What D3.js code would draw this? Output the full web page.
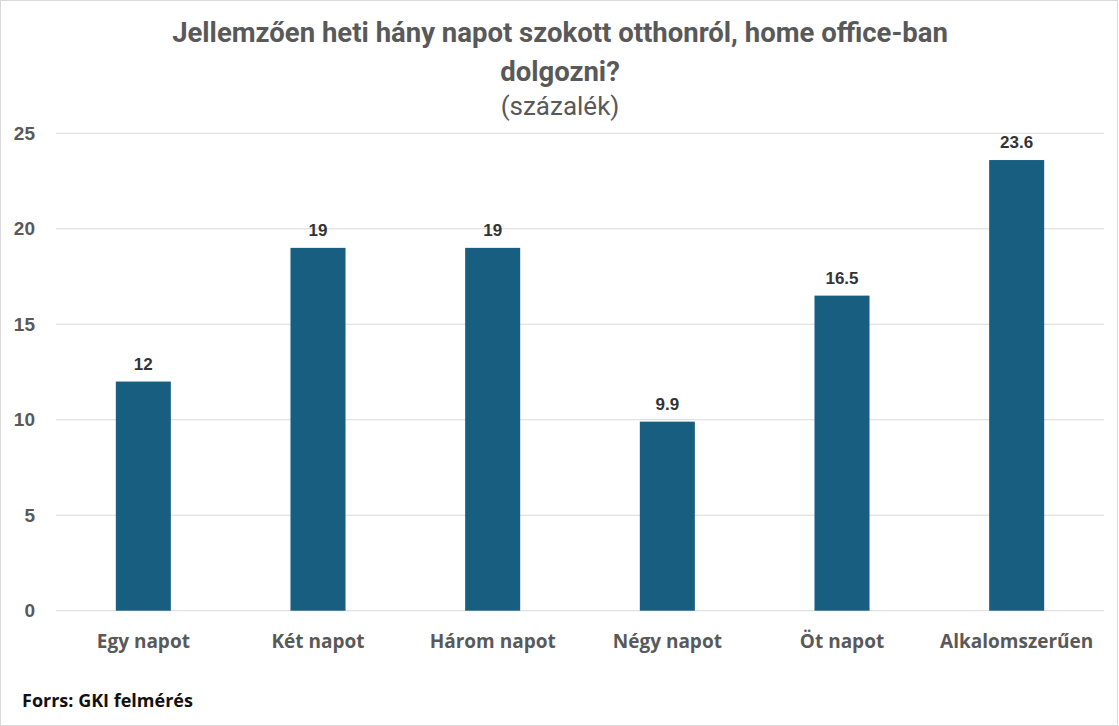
<!DOCTYPE html>
<html><head><meta charset="utf-8">
<script src="https://cdn.jsdelivr.net/npm/d3@7"></script>
<style>body{margin:0;background:#fff}</style>
</head><body>
<svg id="c" width="1119" height="726"></svg>
<script>
const categories = ["Egy napot","Két napot","Három napot","Négy napot","Öt napot","Alkalomszerűen"];
const values = [12, 19, 19, 9.9, 16.5, 23.6];
const valueLabels = ["12","19","19","9.9","16.5","23.6"];
const yTicks = [0,5,10,15,20,25];
const titleLines = ["Jellemzően heti hány napot szokott otthonról, home office-ban","dolgozni?"];
const subtitle = "(százalék)";
const source = "Forrs: GKI felmérés";

(function(){
const svg = d3.select("#c");
svg.append("rect").attr("x",0.5).attr("y",0.5).attr("width",1117).attr("height",725).attr("fill","#fff").attr("stroke","#d9d9d9");

const pl = 56, pr = 1104, pt = 133.3, pb = 610.7;
const x = d3.scaleBand().domain(categories).range([pl,pr]).paddingInner(0.685).paddingOuter(0.3425);
const y = d3.scaleLinear().domain([0,25]).range([pb,pt]);

const condensed = "'Liberation Sans Narrow','Roboto','Open Sans',sans-serif";

svg.append("g").selectAll("line").data(yTicks).join("line")
  .attr("x1",pl).attr("x2",pr).attr("y1",d=>y(d)).attr("y2",d=>y(d))
  .attr("stroke","#d9d9d9").attr("stroke-width",1);

const ya = svg.append("g").attr("transform",`translate(${pl},0)`)
  .call(d3.axisLeft(y).tickValues(yTicks).tickSize(0).tickPadding(21));
ya.select(".domain").remove();
ya.selectAll("text").attr("font-family","'Liberation Sans',Arial,sans-serif").attr("font-weight","bold")
  .attr("font-size",19).attr("fill","#595959");

svg.append("g").selectAll("rect").data(values).join("rect")
  .attr("x",(d,i)=>x(categories[i])).attr("width",x.bandwidth())
  .attr("y",d=>y(d)).attr("height",d=>y(0)-y(d)).attr("fill","#175e80");

svg.append("g").selectAll("text").data(values).join("text")
  .attr("x",(d,i)=>x(categories[i])+x.bandwidth()/2).attr("y",d=>y(d)-12)
  .attr("text-anchor","middle").attr("font-family","'Liberation Sans',Arial,sans-serif")
  .attr("font-weight","bold").attr("font-size",17).attr("fill","#333")
  .text((d,i)=>valueLabels[i]);

const xa = svg.append("g").attr("transform",`translate(0,${pb})`)
  .call(d3.axisBottom(x).tickSize(0).tickPadding(32));
xa.select(".domain").remove();
xa.selectAll("text").attr("font-family","'Open Sans',sans-serif").attr("font-weight","bold")
  .attr("font-size",19).attr("fill","#595959").attr("dy","0.3em");

svg.append("g").selectAll("text").data(titleLines).join("text")
  .attr("x",560).attr("y",(d,i)=>42+i*39).attr("text-anchor","middle")
  .attr("font-family",condensed).attr("font-weight","bold").attr("font-size",27.5).attr("fill","#595959")
  .text(d=>d);
svg.append("text").attr("x",560).attr("y",115).attr("text-anchor","middle")
  .attr("font-family",condensed).attr("font-size",26).attr("fill","#595959").text(subtitle);

svg.append("text").attr("x",22).attr("y",707).attr("font-family","'Open Sans',sans-serif")
  .attr("font-weight","bold").attr("font-size",18).attr("fill","#111").text(source);
})();
</script>
</body></html>
